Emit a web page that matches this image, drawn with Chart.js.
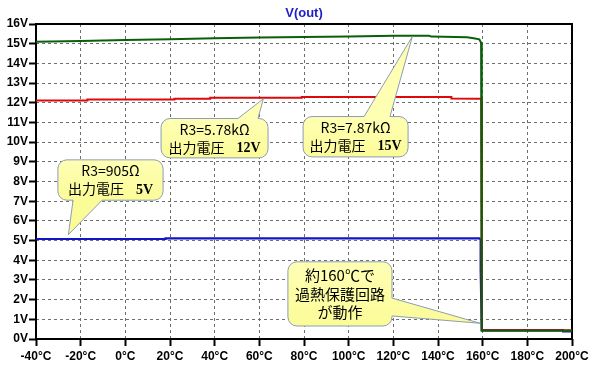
<!DOCTYPE html>
<html>
<head>
<meta charset="utf-8">
<script src="https://cdn.jsdelivr.net/npm/chart.js@4"></script>
<style>
  html, body { margin: 0; padding: 0; background: #ffffff; }
  #wrap { position: relative; width: 593px; height: 369px; }
</style>
</head>
<body>
<div id="wrap"><canvas id="c"></canvas></div>
<script>
// ---- data ----
const xTickValues = [-40, -20, 0, 20, 40, 60, 80, 100, 120, 140, 160, 180, 200];
const yTickValues = [0, 1, 2, 3, 4, 5, 6, 7, 8, 9, 10, 11, 12, 13, 14, 15, 16];
const xTickLabels = ['-40°C', '-20°C', '0°C', '20°C', '40°C', '60°C', '80°C', '100°C', '120°C', '140°C', '160°C', '180°C', '200°C'];
const yTickLabels = ['0V', '1V', '2V', '3V', '4V', '5V', '6V', '7V', '8V', '9V', '10V', '11V', '12V', '13V', '14V', '15V', '16V'];

const tempGreen = [-40, -20, 0, 20, 40, 60, 80, 100, 120, 136, 137, 153, 156, 158.5, 159.3, 159.6, 159.6, 175, 200];
const voutGreen = [15.10, 15.14, 15.19, 15.23, 15.27, 15.31, 15.34, 15.37, 15.40, 15.40, 15.36, 15.33, 15.28, 15.22, 15.05, 14.6, 0.42, 0.42, 0.42];

const tempRed = [-40, -17, -17, 22, 22, 38, 38, 79, 79, 146, 146, 159.4, 159.6, 159.6, 200];
const voutRed = [12.11, 12.11, 12.16, 12.16, 12.20, 12.20, 12.25, 12.25, 12.29, 12.29, 12.21, 12.20, 12.10, 0.44, 0.44];

const tempBlue = [-40, 18, 18, 158.6, 159.1, 159.1, 159.6, 196, 196, 200];
const voutBlue = [5.08, 5.08, 5.11, 5.11, 5.05, 3.5, 0.45, 0.45, 0.38, 0.38];

const titleText = 'V(out)';

// callout texts
const callout5Lines = [['R3=905Ω'], ['出力電圧', '5V']];
const callout12Lines = [['R3=5.78kΩ'], ['出力電圧', '12V']];
const callout15Lines = [['R3=7.87kΩ'], ['出力電圧', '15V']];
const calloutTempLines = [['約160℃で'], ['過熱保護回路'], ['が動作']];

// ---- presentation ----
const toPts = (xs, ys) => xs.map((x, i) => ({ x: x, y: ys[i] }));

const jpFont = "'Noto Sans CJK JP', 'Noto Sans', sans-serif";
const serifBold = "bold 14px 'Liberation Serif', 'DejaVu Serif', serif";

// callout layout in data coordinates: box [xLeft, yTop, xRight, yBottom], tip [x, y], base on a side
const callouts = [
  { lines: callout5Lines, box: [-30.2, 9.1, 16.9, 7.05], tip: [-25.5, 5.3], side: 'bottom', base: [-23.4, -10.4], size: 14, lh: 18 },
  { lines: callout12Lines, box: [16.0, 11.2, 63.9, 9.2], tip: [61.8, 12.2], side: 'top', base: [50.4, 59.4], size: 14, lh: 18 },
  { lines: callout15Lines, box: [79.6, 11.3, 126.6, 9.25], tip: [128.5, 15.36], side: 'top', base: [106.9, 118.5], size: 14, lh: 18 },
  { lines: calloutTempLines, box: [72.8, 3.92, 119.4, 0.66], tip: [158.8, 0.8], side: 'right', base: [2.08, 1.17], size: 15, lh: 18.4 }
];

function drawCallout(ctx, c, xs, ys) {
  const x1 = xs.getPixelForValue(c.box[0]);
  const x2 = xs.getPixelForValue(c.box[2]);
  const y1 = ys.getPixelForValue(c.box[1]);
  const y2 = ys.getPixelForValue(c.box[3]);
  const tx = xs.getPixelForValue(c.tip[0]);
  const ty = ys.getPixelForValue(c.tip[1]);
  const r = 9;
  let b0, b1;
  if (c.side === 'right') { b0 = ys.getPixelForValue(c.base[0]); b1 = ys.getPixelForValue(c.base[1]); }
  else { b0 = xs.getPixelForValue(c.base[0]); b1 = xs.getPixelForValue(c.base[1]); }

  ctx.save();
  ctx.beginPath();
  ctx.moveTo(x1 + r, y1);
  if (c.side === 'top') { ctx.lineTo(b0, y1); ctx.lineTo(tx, ty); ctx.lineTo(b1, y1); }
  ctx.lineTo(x2 - r, y1);
  ctx.arcTo(x2, y1, x2, y1 + r, r);
  if (c.side === 'right') { ctx.lineTo(x2, b0); ctx.lineTo(tx, ty); ctx.lineTo(x2, b1); }
  ctx.lineTo(x2, y2 - r);
  ctx.arcTo(x2, y2, x2 - r, y2, r);
  if (c.side === 'bottom') { ctx.lineTo(b1, y2); ctx.lineTo(tx, ty); ctx.lineTo(b0, y2); }
  ctx.lineTo(x1 + r, y2);
  ctx.arcTo(x1, y2, x1, y2 - r, r);
  ctx.lineTo(x1, y1 + r);
  ctx.arcTo(x1, y1, x1 + r, y1, r);
  ctx.closePath();
  const g = ctx.createLinearGradient(0, y1, 0, y2);
  g.addColorStop(0, '#ffffb4');
  g.addColorStop(1, '#fbfb98');
  ctx.fillStyle = g;
  ctx.fill();
  ctx.lineWidth = 1;
  ctx.strokeStyle = '#8d9db3';
  ctx.stroke();

  // text
  ctx.fillStyle = '#000000';
  ctx.textBaseline = 'middle';
  ctx.textAlign = 'left';
  const cx = (x1 + x2) / 2;
  const cy = (y1 + y2) / 2;
  const n = c.lines.length;
  const mainFont = c.size + 'px ' + jpFont;
  c.lines.forEach((segs, i) => {
    const y = cy + (i - (n - 1) / 2) * c.lh;
    const parts = segs.map((s, k) => ({ text: s, font: (k === 1 ? serifBold : mainFont) }));
    const gap = 12;
    let total = 0;
    parts.forEach((p, k) => { ctx.font = p.font; p.w = ctx.measureText(p.text).width; total += p.w + (k > 0 ? gap : 0); });
    let x = cx - total / 2;
    parts.forEach((p, k) => {
      if (k > 0) x += gap;
      ctx.font = p.font;
      ctx.fillText(p.text, x, y + (k === 1 ? 1 : 0));
      x += p.w;
    });
  });
  ctx.restore();
}

const framePlugin = {
  id: 'frame',
  beforeDatasetsDraw(chart) {
    const a = chart.chartArea;
    const ctx = chart.ctx;
    ctx.save();
    ctx.lineWidth = 2;
    ctx.strokeStyle = '#000000';
    ctx.strokeRect(a.left, a.top, a.right - a.left, a.bottom - a.top);
    ctx.restore();
  },
  afterDatasetsDraw(chart) {
    const xs = chart.scales.x, ys = chart.scales.y;
    callouts.forEach(c => drawCallout(chart.ctx, c, xs, ys));
  }
};

const bgPlugin = {
  id: 'bg',
  beforeDraw(chart) {
    const ctx = chart.ctx;
    ctx.save();
    ctx.fillStyle = '#ffffff';
    ctx.fillRect(0, 0, chart.width, chart.height);
    ctx.restore();
  }
};

Chart.defaults.font.family = "'Liberation Sans', Arial, sans-serif";

new Chart(document.getElementById('c'), {
  type: 'line',
  data: {
    datasets: [
      { label: '15V', data: toPts(tempGreen, voutGreen), borderColor: '#0b5f0b', borderWidth: 2, pointRadius: 0, tension: 0, fill: false },
      { label: '12V', data: toPts(tempRed, voutRed), borderColor: '#dc0a0a', borderWidth: 2, pointRadius: 0, tension: 0, fill: false },
      { label: '5V', data: toPts(tempBlue, voutBlue), borderColor: '#1414c4', borderWidth: 2.2, pointRadius: 0, tension: 0, fill: false }
    ]
  },
  options: {
    responsive: true,
    maintainAspectRatio: false,
    animation: false,
    events: [],
    layout: { padding: { top: 0, right: 21, left: 0, bottom: 0 } },
    plugins: {
      legend: { display: false },
      tooltip: { enabled: false },
      title: {
        display: true,
        text: titleText,
        fullSize: false,
        color: '#1e1ec8',
        font: { size: 13, weight: 'bold' },
        padding: { top: 6, bottom: 2.4 }
      }
    },
    scales: {
      x: {
        type: 'linear',
        min: -40, max: 200,
        afterBuildTicks: s => { s.ticks = xTickValues.map(v => ({ value: v })); },
        afterFit: s => { s.height = 30; },
        ticks: {
          autoSkip: false, maxRotation: 0, padding: 3,
          color: '#000000',
          font: { size: 12, weight: 'bold' },
          callback: v => xTickLabels[xTickValues.indexOf(v)]
        },
        grid: { color: '#6e6e6e', lineWidth: 1, tickLength: 7, tickColor: '#000000', tickWidth: 2 },
        border: { display: false, dash: [3, 3] }
      },
      y: {
        type: 'linear',
        min: 0, max: 16,
        afterBuildTicks: s => { s.ticks = yTickValues.map(v => ({ value: v })); },
        afterFit: s => { s.width = 36; },
        ticks: {
          autoSkip: false, padding: 1,
          color: '#000000',
          font: { size: 12, weight: 'bold' },
          callback: v => yTickLabels[yTickValues.indexOf(v)]
        },
        grid: { color: '#6e6e6e', lineWidth: 1, tickLength: 7, tickColor: '#000000', tickWidth: 2 },
        border: { display: false, dash: [3, 3] }
      }
    }
  },
  plugins: [bgPlugin, framePlugin]
});
</script>
</body>
</html>
